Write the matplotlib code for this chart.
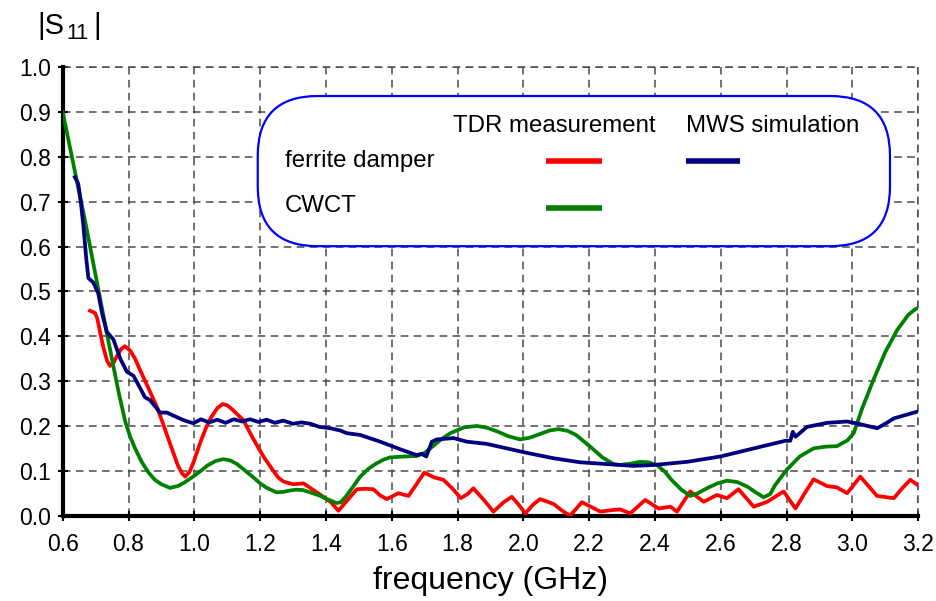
import matplotlib
matplotlib.use("Agg")
import matplotlib.pyplot as plt
from matplotlib.patches import FancyBboxPatch

plt.rcParams['font.family'] = ['Liberation Sans', 'DejaVu Sans']

# ferrite damper, TDR measurement
red_f = [0.683, 0.698, 0.705, 0.712, 0.723, 0.735, 0.744, 0.755, 0.764, 0.778,
         0.789, 0.805, 0.82, 0.835, 0.86, 0.886, 0.905, 0.926, 0.95, 0.962,
         0.972, 0.985, 0.998, 1.017, 1.035, 1.05, 1.07, 1.086, 1.1, 1.115,
         1.149, 1.18, 1.21, 1.24, 1.255, 1.271, 1.3, 1.332, 1.36, 1.392,
         1.415, 1.438, 1.46, 1.494, 1.52, 1.544, 1.565, 1.585, 1.62, 1.651,
         1.675, 1.699, 1.73, 1.757, 1.785, 1.81, 1.83, 1.848, 1.88, 1.909,
         1.94, 1.965, 1.985, 2.006, 2.03, 2.051, 2.092, 2.12, 2.142, 2.178,
         2.21, 2.234, 2.265, 2.294, 2.325, 2.37, 2.411, 2.447, 2.467, 2.507,
         2.548, 2.588, 2.619, 2.654, 2.70, 2.741, 2.791, 2.827, 2.855, 2.882,
         2.923, 2.953, 2.984, 3.024, 3.05, 3.075, 3.126, 3.15, 3.176, 3.212]
red_s = [0.457, 0.452, 0.440, 0.415, 0.377, 0.345, 0.334, 0.342, 0.355, 0.372,
         0.378, 0.368, 0.350, 0.325, 0.285, 0.243, 0.205, 0.161, 0.112, 0.095,
         0.087, 0.097, 0.120, 0.161, 0.195, 0.218, 0.240, 0.249, 0.246, 0.237,
         0.213, 0.170, 0.132, 0.100, 0.085, 0.076, 0.070, 0.072, 0.058, 0.042,
         0.030, 0.011, 0.030, 0.059, 0.060, 0.059, 0.045, 0.037, 0.050, 0.044,
         0.070, 0.096, 0.085, 0.080, 0.060, 0.039, 0.048, 0.061, 0.035, 0.009,
         0.030, 0.042, 0.025, 0.005, 0.025, 0.037, 0.026, 0.010, 0.000, 0.030,
         0.018, 0.009, 0.012, 0.014, 0.005, 0.035, 0.016, 0.020, 0.009, 0.054,
         0.031, 0.046, 0.039, 0.059, 0.020, 0.031, 0.054, 0.016, 0.050, 0.081,
         0.066, 0.063, 0.050, 0.087, 0.065, 0.044, 0.039, 0.060, 0.080, 0.061]

# CWCT, TDR measurement
green_f = [0.6, 0.67, 0.72, 0.744, 0.77, 0.79, 0.805, 0.82, 0.84, 0.86,
           0.88, 0.90, 0.926, 0.95, 0.97, 0.996, 1.02, 1.04, 1.065, 1.088,
           1.11, 1.13, 1.155, 1.18, 1.2, 1.22, 1.25, 1.27, 1.29, 1.31,
           1.33, 1.36, 1.38, 1.41, 1.433, 1.445, 1.46, 1.48, 1.504, 1.53,
           1.55, 1.575, 1.595, 1.64, 1.676, 1.70, 1.72, 1.75, 1.778, 1.82,
           1.859, 1.89, 1.92, 1.955, 1.99, 2.02, 2.05, 2.08, 2.107, 2.135,
           2.16, 2.18, 2.203, 2.24, 2.274, 2.294, 2.325, 2.355, 2.38, 2.406,
           2.43, 2.45, 2.48, 2.507, 2.53, 2.56, 2.59, 2.619, 2.65, 2.68,
           2.70, 2.73, 2.75, 2.765, 2.80, 2.84, 2.882, 2.92, 2.953, 2.985,
           3.004, 3.03, 3.064, 3.10, 3.136, 3.17, 3.19, 3.212]
green_s = [0.900, 0.650, 0.460, 0.370, 0.275, 0.210, 0.176, 0.150, 0.120, 0.097,
           0.080, 0.070, 0.062, 0.066, 0.074, 0.087, 0.100, 0.112, 0.122, 0.126,
           0.123, 0.115, 0.100, 0.085, 0.072, 0.062, 0.052, 0.053, 0.056, 0.058,
           0.057, 0.050, 0.045, 0.035, 0.028, 0.030, 0.042, 0.062, 0.087, 0.105,
           0.115, 0.125, 0.130, 0.132, 0.133, 0.140, 0.152, 0.170, 0.184, 0.197,
           0.200, 0.196, 0.188, 0.177, 0.170, 0.174, 0.182, 0.190, 0.193, 0.189,
           0.180, 0.168, 0.154, 0.130, 0.115, 0.113, 0.116, 0.120, 0.119, 0.113,
           0.098, 0.080, 0.058, 0.044, 0.050, 0.062, 0.072, 0.078, 0.075, 0.065,
           0.055, 0.041, 0.048, 0.068, 0.102, 0.132, 0.150, 0.154, 0.155, 0.168,
           0.184, 0.240, 0.303, 0.365, 0.414, 0.448, 0.460, 0.468]

# ferrite damper, MWS simulation
blue_f = [0.637, 0.647, 0.655, 0.663, 0.672, 0.678, 0.693, 0.708, 0.72, 0.734,
          0.754, 0.775, 0.795, 0.815, 0.835, 0.85, 0.865, 0.896, 0.916, 0.94,
          0.967, 0.997, 1.02, 1.045, 1.07, 1.095, 1.12, 1.145, 1.169, 1.195,
          1.22, 1.245, 1.27, 1.30, 1.325, 1.353, 1.38, 1.413, 1.443, 1.463,
          1.504, 1.565, 1.626, 1.676, 1.69, 1.705, 1.722, 1.737, 1.788, 1.828,
          1.889, 1.95, 2.011, 2.092, 2.173, 2.254, 2.335, 2.396, 2.497, 2.599,
          2.70, 2.796, 2.811, 2.819, 2.827, 2.862, 2.923, 2.984, 3.024, 3.075,
          3.10, 3.126, 3.197]
blue_s = [0.755, 0.741, 0.700, 0.645, 0.570, 0.530, 0.520, 0.496, 0.450, 0.410,
          0.393, 0.350, 0.321, 0.312, 0.285, 0.264, 0.258, 0.230, 0.230, 0.222,
          0.213, 0.206, 0.215, 0.208, 0.214, 0.207, 0.215, 0.210, 0.215, 0.209,
          0.214, 0.207, 0.212, 0.205, 0.208, 0.205, 0.198, 0.195, 0.190, 0.184,
          0.180, 0.165, 0.148, 0.135, 0.138, 0.132, 0.165, 0.170, 0.173, 0.165,
          0.160, 0.150, 0.140, 0.128, 0.119, 0.115, 0.111, 0.113, 0.120, 0.132,
          0.150, 0.167, 0.167, 0.187, 0.176, 0.198, 0.207, 0.210, 0.204, 0.195,
          0.205, 0.217, 0.232]

x_ticks = [0.6, 0.8, 1.0, 1.2, 1.4, 1.6, 1.8, 2.0, 2.2, 2.4, 2.6, 2.8, 3.0, 3.2]
y_ticks = [0.0, 0.1, 0.2, 0.3, 0.4, 0.5, 0.6, 0.7, 0.8, 0.9, 1.0]

RED = '#ff0000'
GREEN = '#008000'
BLUE = '#000080'
GRID = '#4a4a4a'
DASH = (0, (5, 3.5))

fig = plt.figure(figsize=(9.36, 6.01), dpi=100)
ax = fig.add_axes([0.067, 0.142, 0.914, 0.746])

lw = 2.7
ax.plot(red_f, red_s, color=RED, lw=lw, solid_joinstyle='round', zorder=3)
ax.plot(green_f, green_s, color=GREEN, lw=lw, solid_joinstyle='round', zorder=3)
ax.plot(blue_f, blue_s, color=BLUE, lw=lw, solid_joinstyle='round', zorder=4)

ax.set_xlim(0.6, 3.2)
ax.set_ylim(0.0, 1.0)
ax.set_xticks(x_ticks)
ax.set_yticks(y_ticks)
ax.set_xticklabels(['%.1f' % v for v in x_ticks], fontsize=16.5)
ax.set_yticklabels(['%.1f' % v for v in y_ticks], fontsize=16.5)
ax.tick_params(direction='inout', length=7, width=1.5)
ax.tick_params(axis='x', pad=9)
ax.tick_params(axis='y', pad=5)

# dashed grid, top/right border drawn as grid lines too
ax.grid(True, color=GRID, linestyle=DASH, linewidth=1.1)
ax.spines['top'].set_visible(False)
ax.spines['right'].set_visible(False)
ax.spines['left'].set_linewidth(3)
ax.spines['bottom'].set_linewidth(3)
ax.axhline(1.0, color=GRID, linestyle=DASH, linewidth=1.1, clip_on=False)
ax.axvline(3.2, color=GRID, linestyle=DASH, linewidth=1.1, clip_on=False)

ax.set_xlabel('frequency (GHz)', fontsize=23, labelpad=7)

# |S11| heading
fig.text(37 / 936, 1 - 34 / 601, '|S', fontsize=21, va='baseline', ha='left')
fig.text(66 / 936, 1 - 39 / 601, '11', fontsize=15.5, va='baseline', ha='left')
fig.text(93 / 936, 1 - 34 / 601, '|', fontsize=21, va='baseline', ha='left')

# legend box as a small table
box = FancyBboxPatch((0.228, 0.601), 0.739, 0.335,
                     boxstyle='round,pad=0,rounding_size=0.07',
                     transform=ax.transAxes, facecolor='white',
                     edgecolor='#0000ff', linewidth=1.6, zorder=5,
                     mutation_aspect=1.9)
ax.add_patch(box)
kw = dict(transform=ax.transAxes, fontsize=17.3, va='center', ha='left', zorder=6)
ax.text(0.456, 0.868, 'TDR measurement', **kw)
ax.text(0.728, 0.868, 'MWS simulation', **kw)
ax.text(0.260, 0.790, 'ferrite damper', **kw)
ax.text(0.260, 0.690, 'CWCT', **kw)
ax.plot([0.565, 0.630], [0.790, 0.790], color=RED, lw=4, transform=ax.transAxes, zorder=6, solid_capstyle='butt')
ax.plot([0.728, 0.792], [0.790, 0.790], color=BLUE, lw=4, transform=ax.transAxes, zorder=6, solid_capstyle='butt')
ax.plot([0.565, 0.630], [0.687, 0.687], color=GREEN, lw=4, transform=ax.transAxes, zorder=6, solid_capstyle='butt')

fig.savefig('out.png', dpi=100)
